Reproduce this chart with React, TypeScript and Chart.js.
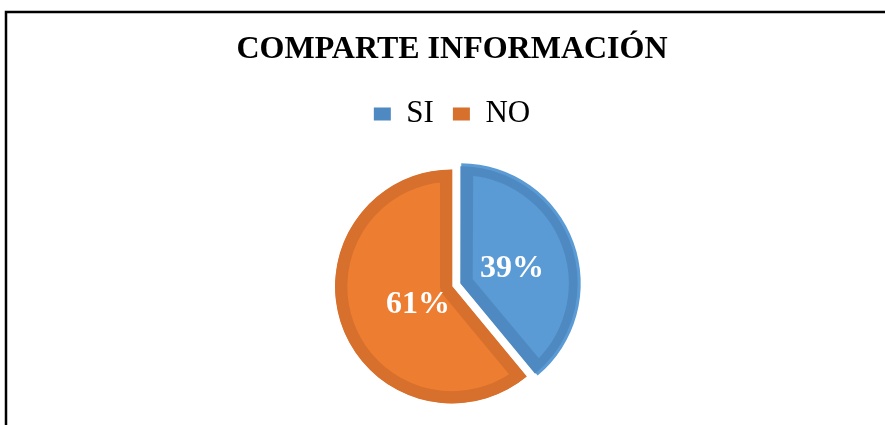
import React, { useEffect, useRef } from 'react';
import { Chart, registerables } from 'chart.js';

Chart.register(...registerables);

const TITLE = 'COMPARTE INFORMACIÓN';
const categories = ['SI', 'NO'];
const values = [39, 61];
const fillColors = ['#5B9BD5', '#ED7D31'];
const borderColors = ['#4F89C1', '#D6702C'];
const explodeOffsets = [37, 0];
const labelRadiusFractions = [0.456, 0.33];
const labelAngleNudgesDeg = [3.7, -8.8];

const SERIF = "'Liberation Serif', 'Times New Roman', Times, serif";

const framePlugin = {
  id: 'frame',
  beforeDraw(chart: any) {
    const { ctx, width, height } = chart;
    ctx.save();
    ctx.fillStyle = '#ffffff';
    ctx.fillRect(0, 0, width, height);
    ctx.strokeStyle = '#000000';
    ctx.lineWidth = 2.5;
    ctx.strokeRect(6, 12, width + 40, height + 40);
    ctx.restore();
  },
};

const percentLabelPlugin = {
  id: 'percentLabels',
  afterDatasetsDraw(chart: any) {
    const { ctx } = chart;
    const meta = chart.getDatasetMeta(0);
    const total = values.reduce((a, b) => a + b, 0);
    ctx.save();
    ctx.fillStyle = '#ffffff';
    ctx.font = `bold 32px ${SERIF}`;
    ctx.textAlign = 'center';
    ctx.textBaseline = 'middle';
    meta.data.forEach((arc: any, i: number) => {
      const p = arc.getProps(['x', 'y', 'startAngle', 'endAngle', 'outerRadius'], true);
      const mid = (p.startAngle + p.endAngle) / 2;
      const off = (arc.options.offset || 0) / 4;
      const cx = p.x + Math.cos(mid) * off;
      const cy = p.y + Math.sin(mid) * off;
      const a = mid + (labelAngleNudgesDeg[i] * Math.PI) / 180;
      const r = p.outerRadius * labelRadiusFractions[i];
      const txt = `${Math.round((values[i] / total) * 100)}%`;
      ctx.fillText(txt, cx + Math.cos(a) * r, cy + Math.sin(a) * r);
    });
    ctx.restore();
  },
};

export default function App() {
  const canvasRef = useRef<HTMLCanvasElement | null>(null);

  useEffect(() => {
    if (!canvasRef.current) return;
    const chart = new Chart(canvasRef.current, {
      type: 'pie',
      data: {
        labels: categories,
        datasets: [
          {
            data: values,
            backgroundColor: fillColors,
            borderColor: borderColors,
            borderWidth: 12,
            borderAlign: 'inner',
            offset: explodeOffsets,
            hoverOffset: 0,
            radius: 117,
          } as any,
        ],
      },
      options: {
        responsive: false,
        animation: false,
        events: [],
        layout: { padding: { left: 19, right: 0, top: 0, bottom: 6.5 } },
        plugins: {
          title: {
            display: true,
            text: TITLE,
            color: '#000000',
            font: { family: SERIF, size: 32, weight: 'bold' },
            padding: { top: 31, bottom: 10.1 },
          },
          legend: {
            display: true,
            position: 'top',
            labels: {
              color: '#000000',
              font: { family: SERIF, size: 31 },
              boxWidth: 17,
              boxHeight: 13,
              padding: 19,
              generateLabels: () =>
                categories.map((c, i) => ({
                  text: c,
                  fillStyle: borderColors[i],
                  strokeStyle: borderColors[i],
                  lineWidth: 0,
                  hidden: false,
                  index: i,
                })),
            },
          },
          tooltip: { enabled: false },
        },
      } as any,
      plugins: [framePlugin, percentLabelPlugin],
    });
    return () => chart.destroy();
  }, []);

  return (
    <div style={{ position: 'fixed', left: 0, top: 0, width: 885, height: 440, overflow: 'hidden' }}>
      <canvas ref={canvasRef} width={885} height={440} style={{ display: 'block', width: 885, height: 440 }} />
    </div>
  );
}
